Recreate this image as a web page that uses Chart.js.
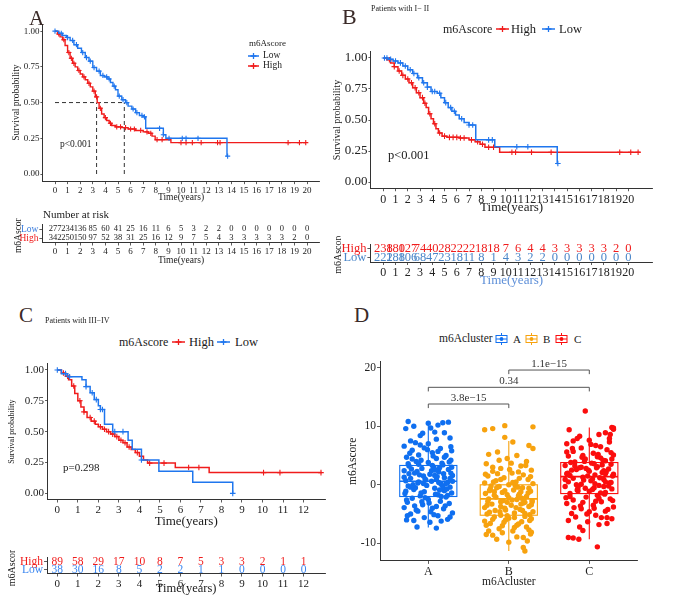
<!DOCTYPE html>
<html><head><meta charset="utf-8">
<script src="https://cdn.jsdelivr.net/npm/chart.js@4.4.1/dist/chart.umd.min.js"></script>
<style>
body{margin:0;background:#fff;}
#fig{position:relative;width:675px;height:596px;overflow:hidden;font-family:'Liberation Serif','DejaVu Serif',serif;color:#1a1a1a;}
#fig canvas{position:absolute;}
.t{position:absolute;white-space:nowrap;line-height:1;transform:translateY(-50%);}
</style></head><body><div id="fig"></div>
<script>
const RED = '#f01c1c', BLUE = '#1f76ee', LOWTXT = '#4a86c8';
const years20 = [0,1,2,3,4,5,6,7,8,9,10,11,12,13,14,15,16,17,18,19,20];
const years12 = [0,1,2,3,4,5,6,7,8,9,10,11,12];
const survTicks = [0, 0.25, 0.5, 0.75, 1];

// Panel A - all patients
const timesALow = [0,0.3,0.6,0.9,1.2,1.5,1.8,2.1,2.4,2.7,3.0,3.3,3.6,3.9,4.2,4.4,4.6,4.8,5.0,5.3,5.6,5.8,6.1,6.4,6.7,7.0,7.2,8.6,8.8,13.65,13.7];
const survALow  = [1.0,0.985,0.97,0.955,0.935,0.905,0.88,0.85,0.815,0.79,0.745,0.72,0.69,0.68,0.665,0.64,0.615,0.59,0.545,0.52,0.5,0.475,0.455,0.43,0.41,0.4,0.32,0.275,0.25,0.125,0.125];
const censorALow = [0,0.5,1.0,1.4,1.7,2.2,2.5,2.8,3.1,3.5,3.8,4.1,4.3,4.7,5.1,5.4,5.7,6.2,6.5,6.9,7.1,8.3,8.6,9.05,10.1,10.4,11.35,13.7];
const timesAHigh = [0,0.2,0.4,0.6,0.8,1.0,1.2,1.4,1.6,1.8,2.0,2.2,2.4,2.6,2.8,3.0,3.2,3.35,3.5,3.7,3.9,4.1,4.3,4.5,4.8,5.3,5.8,6.4,7.0,7.4,7.7,7.95,9.2,19.9];
const survAHigh  = [1.0,0.98,0.96,0.94,0.9,0.85,0.81,0.775,0.75,0.725,0.7,0.68,0.66,0.635,0.61,0.58,0.54,0.5,0.46,0.42,0.395,0.375,0.355,0.34,0.33,0.325,0.315,0.305,0.295,0.285,0.265,0.24,0.22,0.22];
const censorAHigh = [0.3,0.7,1.1,1.3,1.5,1.9,2.3,2.7,3.1,3.3,3.6,4.0,4.4,4.9,5.2,5.6,6.0,6.3,6.8,7.3,7.6,8.1,8.5,10.0,10.4,10.9,11.6,12.9,13.1,18.5,19.4,19.9];
const medianA = [3.3, 5.5];
const riskALow  = [277,234,136,85,60,41,25,16,11,6,5,3,2,2,0,0,0,0,0,0,0];
const riskAHigh = [342,250,150,97,52,38,31,25,16,12,9,7,5,4,3,3,3,3,3,2,0];

// Panel B - stage I-II
const timesBLow = [0,0.4,0.8,1.2,1.6,2.0,2.4,2.8,3.2,3.6,3.9,4.4,4.7,5.0,5.3,5.6,5.9,6.2,6.6,7.0,7.55,9.1,14.2,14.25];
const survBLow  = [1.0,0.99,0.975,0.96,0.935,0.905,0.875,0.84,0.8,0.765,0.73,0.715,0.68,0.64,0.6,0.57,0.54,0.51,0.48,0.46,0.34,0.285,0.15,0.15];
const censorBLow = [0.1,0.3,0.6,1.0,1.4,1.8,2.2,2.5,2.9,3.3,3.6,4.0,4.2,4.6,5.1,5.5,5.8,6.4,7.0,7.3,8.6,8.9,10.9,11.8,14.25];
const timesBHigh = [0,0.3,0.6,0.9,1.2,1.5,1.8,2.1,2.4,2.7,3.0,3.3,3.5,3.7,3.9,4.1,4.3,4.5,4.8,5.2,6.2,7.0,7.5,7.9,8.3,9.5,21.0];
const survBHigh  = [1.0,0.985,0.96,0.93,0.895,0.86,0.83,0.8,0.76,0.72,0.68,0.635,0.6,0.55,0.51,0.47,0.43,0.395,0.37,0.36,0.355,0.34,0.325,0.305,0.28,0.24,0.24];
const censorBHigh = [0.5,0.9,1.3,1.6,2.0,2.3,2.6,2.9,3.2,3.4,3.8,4.2,4.6,5.0,5.4,5.7,6.0,6.3,6.6,7.2,7.7,8.1,8.6,9.0,10.5,10.8,12.1,13.7,19.3,20.2,20.8];
const riskBHigh = [238,180,127,74,40,28,22,22,18,18,7,6,4,4,3,3,3,3,3,2,0];
const riskBLow  = [222,188,106,68,47,23,18,11,8,1,4,3,2,2,0,0,0,0,0,0,0];

// Panel C - stage III-IV
const timesCLow = [0,0.2,0.5,1.2,1.4,1.6,1.8,2.0,2.1,2.3,2.7,3.45,3.65,4.1,4.95,6.6,8.55];
const survCLow  = [1.0,0.97,0.945,0.92,0.865,0.815,0.76,0.71,0.68,0.56,0.5,0.43,0.357,0.27,0.18,0.09,0.0];
const censorCLow = [0,0.4,0.6,1.4,1.7,1.9,2.1,2.2,2.8,3.2,4.1,8.55];
const timesCHigh = [0,0.2,0.4,0.55,0.7,0.85,1.0,1.15,1.3,1.45,1.65,1.85,2.0,2.2,2.4,2.6,2.8,3.0,3.2,3.4,3.6,3.8,4.0,4.2,4.4,5.75,7.4,12.9];
const survCHigh  = [1.0,0.975,0.95,0.92,0.87,0.81,0.75,0.7,0.66,0.615,0.585,0.56,0.54,0.52,0.5,0.48,0.46,0.43,0.41,0.375,0.355,0.33,0.3,0.27,0.245,0.21,0.168,0.168];
const censorCHigh = [0.3,0.5,0.8,1.1,1.3,1.6,1.8,2.1,2.3,2.5,2.7,2.9,3.1,3.3,3.5,3.9,4.5,5.2,6.4,6.9,10.05,10.85,12.85];
const riskCHigh = [89,58,29,17,10,8,7,5,3,3,2,1,1];
const riskCLow  = [38,30,16,8,5,2,2,1,1,0,0,0,0];

// Panel D - m6Ascore by cluster
const clusters = ['A','B','C'];
const clusterColors = ['#0f6ff0','#f7a20e','#fb0d0d'];
const scoreTicks = [-10, 0, 10, 20];
const boxQ1  = [-2.0, -5.2, -1.5];
const boxMed = [0.6, -2.4, 1.4];
const boxQ3  = [3.3, 0.0, 3.8];
const whiskLo = [-7.3, -11.3, -9.3];
const whiskHi = [10.6, 7.5, 9.8];
const bracketFrom = [1, 1, 2];
const bracketTo = [2, 3, 3];
const bracketY = [13.8, 16.65, 19.6];
const bracketLabels = ['3.8e\u221215', '0.34', '1.1e\u221215'];
// [jitter offset, m6Ascore]
const pointsA = [[-0.25,10.8],[0.0,10.5],[0.18,10.6],[0.25,10.7],[0.12,10.2],[-0.18,10.0],[-0.28,9.6],[0.08,9.0],[0.2,8.9],[-0.1,8.4],[0.27,8.0],[-0.22,7.5],[0.0,7.0],[-0.3,6.6],[-0.05,6.3],[0.15,6.2],[0.29,5.8],[-0.2,5.9],[0.05,5.5],[-0.12,5.1],[0.22,5.0],[-0.27,4.7],[0.1,4.5],[0.28,4.2],[-0.15,4.0],[0.0,3.8],[0.18,3.4],[-0.24,3.2],[0.07,3.0],[-0.08,2.8],[0.25,2.6],[-0.3,2.4],[0.13,2.2],[-0.17,2.0],[0.02,1.8],[0.3,1.6],[-0.06,1.5],[0.2,1.2],[-0.22,1.1],[0.1,0.9],[-0.28,0.7],[0.04,0.6],[0.24,0.4],[-0.13,0.3],[0.16,0.1],[-0.02,-0.1],[-0.25,-0.2],[0.27,-0.4],[0.08,-0.6],[-0.18,-0.8],[0.2,-1.0],[-0.05,-1.2],[0.29,-1.4],[-0.29,-1.5],[0.12,-1.7],[-0.1,-1.9],[0.22,-2.1],[-0.2,-2.3],[0.0,-2.5],[0.15,-2.8],[-0.26,-3.0],[0.26,-3.2],[-0.07,-3.4],[0.1,-3.7],[-0.3,-3.9],[0.19,-4.1],[-0.15,-4.3],[0.03,-4.6],[0.3,-4.8],[-0.22,-5.0],[0.12,-5.3],[-0.05,-5.6],[-0.27,-6.0],[-0.18,-6.1],[0.02,-6.4],[-0.14,-7.2],[0.1,-7.4],[0.24,-5.9],[0.06,4.9],[-0.1,6.8],[0.14,2.9],[-0.04,1.0],[0.18,-0.3],[-0.16,-0.5],[0.05,3.3],[-0.2,4.4],[0.22,0.2],[-0.08,-2.9],[0.28,2.0],[-0.24,1.9],[0.09,-1.6],[-0.12,0.5],[0.11,1.4],[-0.28,-1.1],[0.26,3.9],
  [-0.21,2.7],[0.04,2.4],[0.19,1.9],[-0.11,1.7],[0.27,1.1],[-0.03,0.8],[0.13,0.4],[-0.19,0.0],[0.23,-0.7],[-0.09,-1.4],[0.16,-2.0],[-0.27,-2.6],[0.01,-3.1],[0.21,-3.6],[-0.13,-4.5],[0.07,-5.1],[-0.23,5.4],[0.12,5.7],[-0.01,6.0],[0.28,6.5],[-0.16,7.2],[0.1,7.8],[-0.07,8.8],[0.03,9.7],[0.29,3.0],[-0.25,3.6],[0.17,3.7],[-0.14,2.3],[0.08,1.6],[-0.3,1.3],[0.24,-1.8],[-0.04,-2.2],[0.14,-0.9],[-0.22,-0.4],[0.3,0.6],[-0.09,4.2],[0.2,4.7],[-0.17,-3.6],[0.05,-4.0],[0.27,-5.5],[-0.26,-5.3],[0.16,-6.2],[-0.06,0.2],[0.09,2.5],[-0.12,3.5]];
const pointsB = [[-0.3,9.4],[-0.2,9.6],[-0.05,10.1],[0.3,9.9],[-0.05,8.1],[0.05,7.3],[0.25,6.7],[0.3,6.2],[-0.25,5.2],[-0.14,5.6],[0.1,5.0],[-0.02,4.5],[0.22,4.0],[-0.28,3.6],[0.15,3.2],[-0.1,2.8],[0.28,2.5],[-0.2,2.3],[0.04,2.0],[0.18,1.7],[-0.26,1.5],[-0.06,1.2],[0.24,0.9],[-0.16,0.7],[0.09,0.5],[-0.3,0.3],[0.3,0.2],[0.0,0.0],[-0.12,-0.3],[0.17,-0.5],[-0.23,-0.7],[0.06,-0.9],[0.27,-1.1],[-0.08,-1.3],[-0.29,-1.5],[0.13,-1.6],[-0.18,-1.8],[0.22,-2.0],[0.0,-2.2],[-0.25,-2.4],[0.1,-2.5],[0.29,-2.7],[-0.1,-2.9],[0.18,-3.1],[-0.21,-3.3],[0.03,-3.5],[0.25,-3.7],[-0.3,-3.9],[-0.05,-4.0],[0.14,-4.2],[-0.17,-4.4],[0.3,-4.6],[0.07,-4.8],[-0.27,-5.0],[-0.1,-5.2],[0.2,-5.4],[0.0,-5.7],[-0.2,-5.9],[0.26,-6.1],[-0.06,-6.4],[0.12,-6.7],[-0.28,-6.9],[0.22,-7.2],[-0.12,-7.5],[0.05,-7.9],[0.28,-8.1],[-0.2,-8.6],[-0.28,-8.5],[0.1,-8.9],[-0.15,-9.3],[0.18,-9.0],[0.18,-10.7],[0.2,-11.3],[0.27,-8.4],[-0.04,-6.0],[0.15,-3.3],[-0.24,-1.0],[0.08,-0.1],[-0.14,1.9],[0.2,-4.9],[-0.02,-3.0],[0.12,-1.9],[-0.26,-2.8],[0.25,-0.6],[-0.08,-7.0],[0.03,3.7],[-0.18,-5.5],[0.16,-2.3],[-0.1,0.9],[0.28,-5.8],
  [-0.22,-0.2],[0.11,-0.4],[-0.05,-1.0],[0.24,-1.4],[-0.16,-2.1],[0.04,-2.6],[0.2,-3.0],[-0.27,-3.5],[0.09,-3.9],[-0.11,-4.6],[0.26,-5.1],[-0.02,-5.3],[0.16,-6.3],[-0.23,-6.6],[0.07,-7.3],[-0.08,-8.2],[0.23,-9.6],[-0.19,0.5],[0.13,1.1],[-0.29,1.8],[0.01,2.6],[0.21,3.3],[-0.12,4.2],[0.29,-2.9],[-0.02,-1.7],[0.1,-6.9],[-0.24,-4.7],[0.17,-4.4],[0.28,-3.4],[-0.07,-2.7],[-0.15,-0.5],[0.05,0.4],[0.25,-7.7],[-0.3,-6.2],[0.12,2.2],[-0.2,3.0],[0.0,-9.8],[0.15,-1.2],[-0.1,-3.7],[0.27,1.4],[-0.25,-7.9],[0.07,-5.6],[-0.04,-4.3],[0.19,-2.4],[-0.18,-1.2]];
const pointsC = [[-0.05,12.6],[0.28,9.8],[0.3,9.5],[-0.25,9.4],[0.2,8.9],[0.12,8.6],[-0.15,7.9],[0.0,7.6],[0.25,7.3],[-0.28,7.0],[0.08,6.7],[-0.1,6.3],[0.22,6.0],[-0.2,5.7],[0.05,5.4],[0.3,5.1],[-0.26,4.9],[0.14,4.6],[-0.05,4.4],[0.2,4.1],[-0.18,3.9],[0.03,3.7],[0.27,3.5],[-0.3,3.3],[0.1,3.1],[-0.12,2.9],[0.24,2.7],[-0.22,2.5],[0.0,2.3],[0.16,2.1],[-0.28,1.9],[0.07,1.7],[0.29,1.5],[-0.08,1.3],[-0.2,1.1],[0.18,0.9],[0.02,0.7],[-0.26,0.5],[0.25,0.3],[-0.1,0.1],[0.12,-0.1],[-0.3,-0.3],[0.06,-0.5],[0.28,-0.7],[-0.15,-0.9],[0.0,-1.1],[0.2,-1.3],[-0.24,-1.5],[0.1,-1.8],[-0.04,-2.1],[0.26,-2.4],[-0.2,-2.6],[0.15,-2.9],[-0.28,-3.2],[0.05,-3.5],[0.3,-3.8],[-0.1,-4.1],[0.2,-4.5],[-0.22,-4.9],[0.08,-5.2],[-0.17,-5.5],[0.28,-5.8],[-0.02,-6.3],[0.12,-6.8],[-0.12,-7.2],[-0.08,-7.8],[-0.2,-9.1],[-0.13,-9.3],[-0.26,-9.0],[0.1,-10.6],[0.22,-5.6],[-0.06,4.0],[0.18,2.4],[-0.16,0.0],[0.04,1.0],[-0.28,5.6],[0.24,-0.2],[-0.1,3.0],[0.14,6.5],[-0.24,-2.0],[0.3,1.8],[0.06,-4.0],[-0.04,2.8],[0.2,0.5],[-0.2,7.5],[0.1,4.8],[-0.14,-1.0],[0.26,8.6],[-0.08,-3.0],[0.16,3.4],
  [-0.18,3.2],[0.09,2.9],[-0.01,2.5],[0.21,2.2],[-0.24,1.6],[0.13,1.2],[-0.07,0.8],[0.27,0.4],[-0.14,-0.4],[0.04,-0.8],[0.19,-1.6],[-0.29,-2.2],[0.08,-2.8],[-0.11,-3.6],[0.23,-4.2],[-0.03,-5.0],[0.15,-5.6],[-0.26,-6.1],[0.28,4.4],[-0.09,4.7],[0.11,5.2],[-0.21,6.2],[0.02,6.9],[0.25,7.9],[-0.12,8.3],[0.3,9.7],[0.06,3.6],[-0.27,2.0],[0.2,1.9],[-0.05,-0.6],[0.14,-1.4],[-0.19,-3.9],[0.29,-2.7],[-0.08,5.0],[0.17,4.2],[-0.3,0.9],[0.0,-4.6],[0.22,-6.6],[-0.16,2.6],[0.07,0.2],[-0.23,3.8],[0.12,-2.3],[0.27,5.5],[-0.02,1.5],[0.18,-0.3]];

const FONT = "'Liberation Serif', 'DejaVu Serif', serif";
Chart.defaults.font.family = FONT;
Chart.defaults.color = '#222';
const fig = document.getElementById('fig');

function makeCanvas(b) {
    const c = document.createElement('canvas');
    c.width = b.width; c.height = b.height;
    c.style.left = b.left + 'px'; c.style.top = b.top + 'px';
    fig.appendChild(c);
    return c;
}

function txt(s, x, y, size, opt = {}) {
    const d = document.createElement('div');
    d.className = 't';
    d.textContent = s;
    d.style.left = x + 'px'; d.style.top = y + 'px'; d.style.fontSize = size + 'px';
    if (opt.color) d.style.color = opt.color;
    fig.appendChild(d);
}

function sym(html, x, y) {
    const d = document.createElement('div');
    d.className = 't';
    d.innerHTML = html;
    d.style.left = x + 'px'; d.style.top = y + 'px';
    fig.appendChild(d);
}

function kmSym(color, w) {
    const m = w / 2;
    return `<svg width="${w}" height="9" style="display:block"><path d="M0 4.5H${w}" stroke="${color}" stroke-width="1.6"/><path d="M${m} 1.5V7.5M${m - 3} 4.5H${m + 3}" stroke="${color}" stroke-width="1.3"/></svg>`;
}

function boxSym(color) {
    return `<svg width="13" height="12" style="display:block"><path d="M6.5 0V12" stroke="${color}"/><rect x="1" y="2.5" width="11" height="7" fill="#fff" stroke="${color}"/><path d="M1 6H12" stroke="${color}"/><circle cx="6.5" cy="6" r="1.9" fill="${color}"/></svg>`;
}

function axisOpts(o) {
    const a = {
        type: o.type || 'linear',
        afterFit: s => { if (s.isHorizontal()) s.height = o.size; else s.width = o.size; },
        grid: { display: true, drawOnChartArea: false, drawTicks: true, tickLength: o.tickLen || 3, color: '#333', lineWidth: 0.8 },
        border: { display: true, color: '#333', width: 1 },
        ticks: { font: { size: o.tickSize }, color: o.tickColor || '#222', padding: o.tickPad === undefined ? 1 : o.tickPad, maxRotation: 0, autoSkip: false },
        title: { display: !!o.title, text: o.title || '', font: { size: o.titleSize || 10 }, color: o.titleColor || '#1a1a1a', padding: o.titlePad || 0 }
    };
    if (o.min !== undefined) { a.min = o.min; a.max = o.max; }
    if (o.labels) { a.labels = o.labels; a.offset = true; a.grid.offset = false; }
    if (o.ticks) a.afterBuildTicks = s => { s.ticks = o.ticks.map(v => ({ value: v })); };
    if (o.fmt) a.ticks.callback = o.fmt;
    return a;
}

function survAt(times, surv, t) {
    let s = surv[0];
    for (let i = 0; i < times.length; i++) if (times[i] <= t) s = surv[i];
    return s;
}

function kmChart(b, o) {
    const canvas = makeCanvas(b);
    const datasets = [];
    o.curves.forEach(c => {
        datasets.push({ data: c.times.map((t, i) => ({ x: t, y: c.surv[i] })), borderColor: c.color, borderWidth: o.lw, pointRadius: 0, stepped: true, fill: false });
        datasets.push({ data: c.censor.map(t => ({ x: t, y: survAt(c.times, c.surv, t) })), showLine: false, pointStyle: 'cross', pointRadius: o.cr, borderColor: c.color, borderWidth: 1.1 });
    });
    (o.dashes || []).forEach(d => datasets.push({ data: d, borderColor: '#333', borderDash: [4, 3], borderWidth: 1, pointRadius: 0 }));
    const bottom = b.top + b.height;
    new Chart(canvas, {
        type: 'line',
        data: { datasets },
        options: {
            responsive: false, animation: false, events: [],
            layout: { padding: { left: 0, right: b.left + b.width - o.plotRight, top: o.plotTop - b.top, bottom: 0 } },
            plugins: { legend: { display: false }, tooltip: { enabled: false } },
            scales: {
                x: axisOpts({ min: o.xmin, max: o.xmax, ticks: o.xTicks, size: bottom - o.plotBottom, tickSize: o.xTickSize,
                    title: 'Time(years)', titleSize: o.xTitleSize, titlePad: { top: 0, bottom: bottom - o.xTitleY - o.xTitleSize * 0.6 } }),
                y: axisOpts({ min: -0.05, max: 1.05, ticks: survTicks, fmt: v => v.toFixed(2), size: o.plotLeft - b.left, tickSize: o.yTickSize, tickLen: 2,
                    title: 'Survival probability', titleSize: o.yTitleSize, titlePad: { top: o.yTitleX - b.left - o.yTitleSize * 0.6, bottom: 0 } })
            }
        }
    });
}

const riskPlugin = {
    id: 'riskNumbers',
    afterDatasetsDraw(chart, args, opts) {
        const { ctx, scales: { x, y } } = chart;
        ctx.save();
        ctx.font = opts.size + 'px ' + FONT;
        ctx.textAlign = 'center';
        ctx.textBaseline = 'middle';
        opts.rows.forEach((row, r) => {
            ctx.fillStyle = row.color;
            row.values.forEach((v, i) => ctx.fillText(String(v), x.getPixelForValue(opts.times[i]), y.getPixelForValue(r)));
        });
        ctx.restore();
    }
};

function riskChart(b, o) {
    const canvas = makeCanvas(b);
    const bottom = b.top + b.height;
    new Chart(canvas, {
        type: 'scatter',
        data: { datasets: [] },
        plugins: [riskPlugin],
        options: {
            responsive: false, animation: false, events: [],
            layout: { padding: { left: 0, right: b.left + b.width - o.plotRight, top: o.plotTop - b.top, bottom: 0 } },
            plugins: { legend: { display: false }, tooltip: { enabled: false },
                riskNumbers: { rows: o.rows, times: o.times, size: o.numSize } },
            scales: {
                x: axisOpts({ min: o.xmin, max: o.xmax, ticks: o.times, size: bottom - o.plotBottom, tickSize: o.xTickSize,
                    title: 'Time(years)', titleSize: o.xTitleSize, titleColor: o.xTitleColor, titlePad: { top: 0, bottom: Math.max(0, bottom - o.xTitleY - o.xTitleSize * 0.6) } }),
                y: axisOpts({ type: 'category', labels: o.rows.map(r => r.label), size: o.plotLeft - b.left, tickSize: o.yTickSize,
                    tickColor: c => o.rows[c.index] ? o.rows[c.index].labelColor : '#222',
                    title: 'm6Ascore', titleSize: o.yTitleSize, titlePad: { top: o.yTitleX - b.left - o.yTitleSize * 0.6, bottom: 0 } })
            }
        }
    });
}

// ---------- Panel A ----------
kmChart({ left: 0, top: 0, width: 330, height: 205 }, {
    xmin: -1, xmax: 21, xTicks: years20, plotLeft: 42.4, plotRight: 319.6, plotTop: 24, plotBottom: 181.15,
    xTickSize: 9, yTickSize: 9, xTitleSize: 9.5, yTitleSize: 9.5, xTitleY: 197, yTitleX: 16, lw: 1.4, cr: 2.6,
    curves: [
        { times: timesALow, surv: survALow, censor: censorALow, color: BLUE },
        { times: timesAHigh, surv: survAHigh, censor: censorAHigh, color: RED }
    ],
    dashes: [
        [{ x: 0, y: 0.5 }, { x: medianA[1], y: 0.5 }],
        [{ x: medianA[0], y: 0 }, { x: medianA[0], y: 0.5 }],
        [{ x: medianA[1], y: 0 }, { x: medianA[1], y: 0.5 }]
    ]
});
riskChart({ left: 0, top: 218, width: 330, height: 48 }, {
    xmin: -1, xmax: 21, times: years20, plotLeft: 42.4, plotRight: 319.6, plotTop: 224.5, plotBottom: 242.5,
    xTickSize: 9, yTickSize: 9.5, xTitleSize: 9.5, yTitleSize: 9.5, xTitleY: 260, yTitleX: 18, numSize: 8.5,
    rows: [
        { label: 'Low', labelColor: '#3b7ddd', color: '#222', values: riskALow },
        { label: 'High', labelColor: RED, color: '#222', values: riskAHigh }
    ]
});
txt('A', 29, 18, 21, { color: '#3a2a28' });
txt('m6Ascore', 249, 43, 9);
sym(kmSym(BLUE, 11), 248, 56); txt('Low', 263, 56, 9.5);
sym(kmSym(RED, 11), 248, 66); txt('High', 263, 66, 9.5);
txt('p<0.001', 60, 145, 9.5);
txt('Number at risk', 43, 214, 11);

// ---------- Panel B ----------
kmChart({ left: 328, top: 40, width: 347, height: 176 }, {
    xmin: -1.05, xmax: 22, xTicks: years20, plotLeft: 370.4, plotRight: 652.8, plotTop: 51.75, plotBottom: 188.25,
    xTickSize: 12, yTickSize: 13, xTitleSize: 13, yTitleSize: 10, xTitleY: 208, yTitleX: 337, lw: 1.5, cr: 2.8,
    curves: [
        { times: timesBLow, surv: survBLow, censor: censorBLow, color: BLUE },
        { times: timesBHigh, surv: survBHigh, censor: censorBHigh, color: RED }
    ]
});
riskChart({ left: 328, top: 236, width: 347, height: 54 }, {
    xmin: -1.05, xmax: 22, times: years20, plotLeft: 370.4, plotRight: 652.8, plotTop: 242, plotBottom: 262,
    xTickSize: 12, yTickSize: 12.5, xTitleSize: 13, xTitleColor: '#5d8fd8', yTitleSize: 10, xTitleY: 281, yTitleX: 338, numSize: 12.5,
    rows: [
        { label: 'High', labelColor: RED, color: RED, values: riskBHigh },
        { label: 'Low', labelColor: LOWTXT, color: LOWTXT, values: riskBLow }
    ]
});
txt('B', 342, 17, 22, { color: '#3a2a28' });
txt('Patients with  I\u2212 II', 371, 9, 8);
txt('m6Ascore', 443, 29, 12);
sym(kmSym(RED, 13), 496, 29); txt('High', 511, 29, 12.5);
sym(kmSym(BLUE, 13), 542, 29); txt('Low', 559, 29, 12.5);
txt('p<0.001', 388, 155, 12.5);

// ---------- Panel C ----------
kmChart({ left: 0, top: 352, width: 340, height: 178 }, {
    xmin: -0.5, xmax: 13.06, xTicks: years12, plotLeft: 47.05, plotRight: 325.3, plotTop: 363.8, plotBottom: 499.5,
    xTickSize: 11, yTickSize: 11, xTitleSize: 13, yTitleSize: 8, xTitleY: 522, yTitleX: 12, lw: 1.5, cr: 2.8,
    curves: [
        { times: timesCLow, surv: survCLow, censor: censorCLow, color: BLUE },
        { times: timesCHigh, surv: survCHigh, censor: censorCHigh, color: RED }
    ]
});
riskChart({ left: 0, top: 550, width: 340, height: 46 }, {
    xmin: -0.5, xmax: 13.06, times: years12, plotLeft: 47.05, plotRight: 325.3, plotTop: 555.5, plotBottom: 573.5,
    xTickSize: 11, yTickSize: 11.5, xTitleSize: 12.5, yTitleSize: 10, xTitleY: 589, yTitleX: 12, numSize: 11.5,
    rows: [
        { label: 'High', labelColor: RED, color: RED, values: riskCHigh },
        { label: 'Low', labelColor: '#3a86f0', color: '#3a86f0', values: riskCLow }
    ]
});
txt('C', 19, 315, 21, { color: '#3a2a28' });
txt('Patients with  III\u2212IV', 45, 321, 8);
txt('m6Ascore', 119, 342, 12);
sym(kmSym(RED, 13), 172, 342); txt('High', 189, 342, 12.5);
sym(kmSym(BLUE, 13), 217, 342); txt('Low', 235, 342, 12.5);
txt('p=0.298', 63, 467, 11);

// ---------- Panel D ----------
const boxPlugin = {
    id: 'boxes',
    afterDatasetsDraw(chart) {
        const { ctx, scales: { x, y } } = chart;
        ctx.save();
        ctx.lineWidth = 1.1;
        clusters.forEach((c, i) => {
            const cx = i + 1, half = 0.355;
            const l = x.getPixelForValue(cx - half), r = x.getPixelForValue(cx + half), m = x.getPixelForValue(cx);
            ctx.strokeStyle = clusterColors[i];
            ctx.beginPath();
            ctx.moveTo(m, y.getPixelForValue(boxQ3[i])); ctx.lineTo(m, y.getPixelForValue(whiskHi[i]));
            ctx.moveTo(m, y.getPixelForValue(boxQ1[i])); ctx.lineTo(m, y.getPixelForValue(whiskLo[i]));
            ctx.stroke();
            ctx.strokeRect(l, y.getPixelForValue(boxQ3[i]), r - l, y.getPixelForValue(boxQ1[i]) - y.getPixelForValue(boxQ3[i]));
            ctx.beginPath();
            ctx.lineWidth = 1.6;
            ctx.moveTo(l, y.getPixelForValue(boxMed[i])); ctx.lineTo(r, y.getPixelForValue(boxMed[i]));
            ctx.stroke();
            ctx.lineWidth = 1.1;
        });
        ctx.strokeStyle = '#555';
        ctx.fillStyle = '#333';
        ctx.lineWidth = 1;
        ctx.font = '11px ' + FONT;
        ctx.textAlign = 'center';
        ctx.textBaseline = 'bottom';
        bracketY.forEach((v, i) => {
            const x1 = x.getPixelForValue(bracketFrom[i]), x2 = x.getPixelForValue(bracketTo[i]);
            const yy = y.getPixelForValue(v), yt = y.getPixelForValue(v - 0.7);
            ctx.beginPath();
            ctx.moveTo(x1, yt); ctx.lineTo(x1, yy); ctx.lineTo(x2, yy); ctx.lineTo(x2, yt);
            ctx.stroke();
            ctx.fillText(bracketLabels[i], (x1 + x2) / 2, yy - 0.5);
        });
        ctx.restore();
    }
};

(function () {
    const b = { left: 340, top: 350, width: 330, height: 246 };
    const canvas = makeCanvas(b);
    const groups = [pointsA, pointsB, pointsC];
    const datasets = groups.map((pts, i) => ({
        data: pts.map(p => ({ x: i + 1 + p[0], y: p[1] })),
        backgroundColor: clusterColors[i], borderWidth: 0, pointRadius: 2.7
    }));
    new Chart(canvas, {
        type: 'scatter',
        data: { datasets },
        plugins: [boxPlugin],
        options: {
            responsive: false, animation: false, events: [],
            layout: { padding: { left: 0, right: 670 - 637.6, top: 361.85 - 350, bottom: 0 } },
            plugins: { legend: { display: false }, tooltip: { enabled: false } },
            scales: {
                x: axisOpts({ min: 0.4, max: 3.6, ticks: [1, 2, 3], fmt: v => clusters[v - 1], size: 596 - 560.9, tickSize: 12,
                    title: 'm6Acluster', titleSize: 11.5, titlePad: { top: 0, bottom: 596 - 582 - 6.9 } }),
                y: axisOpts({ min: -13, max: 21, ticks: scoreTicks, size: 40, tickSize: 11.5,
                    title: 'm6Ascore', titleSize: 11.5, titlePad: { top: 13 - 6.9, bottom: 0 } })
            }
        }
    });
})();
txt('D', 354, 315, 21, { color: '#3a2a28' });
txt('m6Acluster', 439, 339, 11.5);
sym(boxSym(clusterColors[0]), 495, 339); txt('A', 513, 339, 11);
sym(boxSym(clusterColors[1]), 525, 339); txt('B', 543, 339, 11);
sym(boxSym(clusterColors[2]), 555, 339); txt('C', 574, 339, 11);
</script></body></html>
